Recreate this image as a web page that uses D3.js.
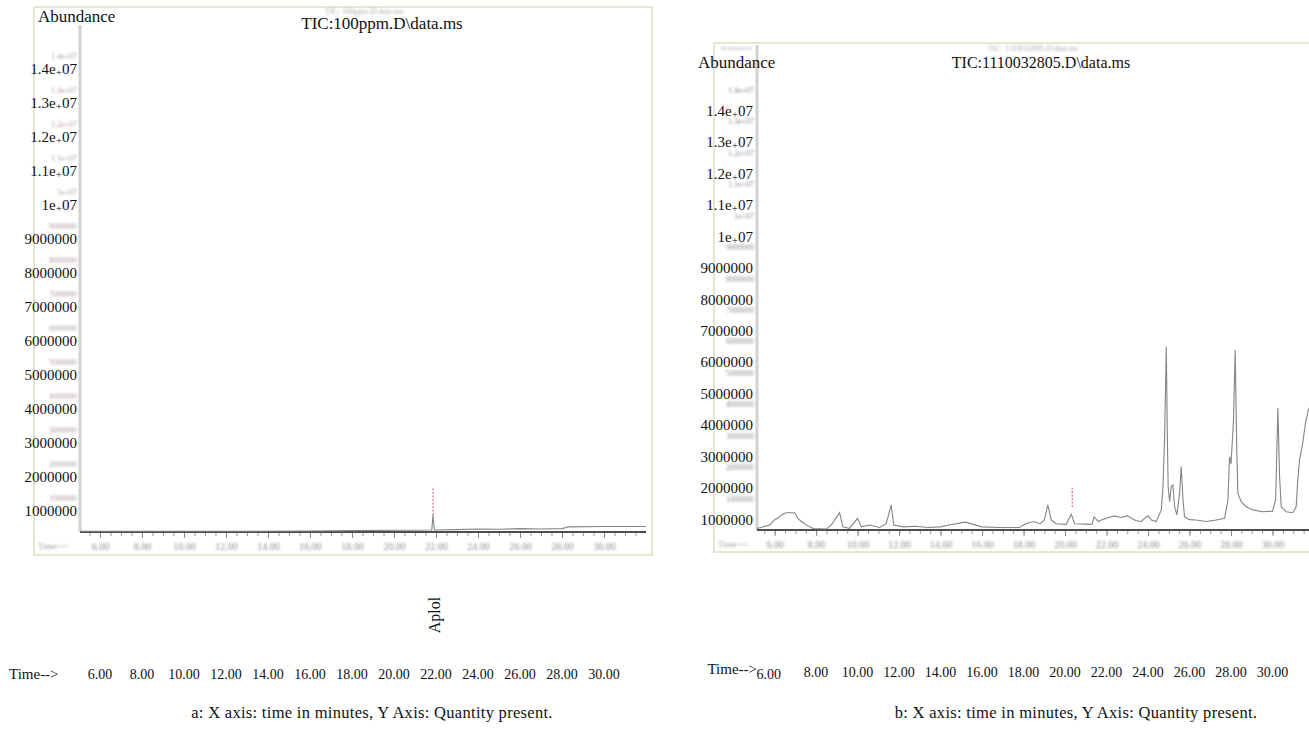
<!DOCTYPE html>
<html>
<head>
<meta charset="utf-8">
<script src="https://cdn.jsdelivr.net/npm/d3@7"></script>
<style>
  body { margin: 0; background: #fff; }
  text { font-family: "Liberation Serif", "Times New Roman", serif; }
</style>
</head>
<body>
<div id="chart"></div>
<script>
const timeLabels = [6, 8, 10, 12, 14, 16, 18, 20, 22, 24, 26, 28, 30];
const abundanceLabels = [1e6, 2e6, 3e6, 4e6, 5e6, 6e6, 7e6, 8e6, 9e6, 10e6, 11e6, 12e6, 13e6, 14e6];

// a: 100 ppm standard, almost flat apart from the Aplol peak
const timeA = [5.05, 8, 12, 16, 18, 20, 21.8, 21.86, 21.92, 23, 24, 25, 26, 27, 28, 28.3, 30, 32];
const abundanceA = [2e4, 2e4, 2e4, 3e4, 4e4, 5e4, 6e4, 5e5, 6e4, 7e4, 9e4, 8e4, 1e5, 9e4, 1e5, 1.5e5, 1.6e5, 1.6e5];

// b: sample 1110032805
const timeB = [5.15, 5.76, 6.0, 6.24, 6.4, 6.56, 6.96, 7.12, 7.29, 7.53, 7.85, 8.5, 8.73, 9.13, 9.29, 9.61,
  10.0, 10.18, 10.58, 11.06, 11.38, 11.62, 11.74, 12.2, 12.8, 13.4, 14.0, 14.4, 15.2, 16.0, 16.8, 17.8,
  18.1, 18.5, 18.8, 19.0, 19.17, 19.33, 19.57, 20.05, 20.3, 20.46, 21.3, 21.4, 21.6, 21.75, 22.1, 22.4,
  22.7, 23.0, 23.4, 23.66, 24.0, 24.16, 24.4, 24.64, 24.72, 24.8, 24.88, 24.93, 24.97, 25.04, 25.12,
  25.2, 25.28, 25.39, 25.52, 25.6, 25.68, 25.76, 26.0, 26.32, 26.8, 27.29, 27.69, 27.85, 27.93, 28.0,
  28.12, 28.2, 28.28, 28.33, 28.49, 28.73, 29.05, 29.53, 30.0, 30.15, 30.26, 30.34, 30.42, 30.66,
  30.98, 31.14, 31.22, 31.3, 31.43, 31.59, 31.73, 32.0];
const abundanceB = [0.05e6, 0.16e6, 0.32e6, 0.42e6, 0.51e6, 0.55e6, 0.55e6, 0.37e6, 0.27e6, 0.16e6, 0.05e6, 0.03e6, 0.16e6, 0.55e6, 0.10e6, 0.05e6,
  0.37e6, 0.10e6, 0.16e6, 0.08e6, 0.20e6, 0.80e6, 0.16e6, 0.10e6, 0.12e6, 0.08e6, 0.10e6, 0.16e6, 0.25e6, 0.10e6, 0.08e6, 0.08e6,
  0.20e6, 0.27e6, 0.20e6, 0.32e6, 0.80e6, 0.32e6, 0.20e6, 0.18e6, 0.50e6, 0.20e6, 0.18e6, 0.42e6, 0.27e6, 0.32e6, 0.40e6, 0.45e6,
  0.40e6, 0.45e6, 0.30e6, 0.27e6, 0.45e6, 0.32e6, 0.27e6, 0.64e6, 1.38e6, 2.97e6, 5.84e6, 2.97e6, 1.38e6, 0.90e6, 1.38e6,
  1.43e6, 0.74e6, 0.48e6, 1.17e6, 2.02e6, 1.00e6, 0.42e6, 0.33e6, 0.32e6, 0.27e6, 0.32e6, 0.37e6, 0.96e6, 2.33e6, 2.10e6,
  3.50e6, 5.73e6, 2.45e6, 1.17e6, 0.90e6, 0.74e6, 0.64e6, 0.58e6, 0.60e6, 0.96e6, 3.88e6, 1.70e6, 0.74e6, 0.58e6,
  0.55e6, 0.74e6, 1.60e6, 2.23e6, 2.65e6, 3.40e6, 3.82e6, 4.20e6];

// pink peak markers drawn by the instrument software
const markTime = [21.86, 20.35];
const markLow = [0.5e6, 0.73e6];
const markHigh = [1.3e6, 1.34e6];

const titles = ["TIC:100ppm.D\\data.ms", "TIC:1110032805.D\\data.ms"];
const scanTitles = ["TIC: 100ppm.D\\data.ms", "TIC: 1110032805.D\\data.ms"];
const captions = ["a: X axis: time in minutes, Y Axis: Quantity present.",
                  "b: X axis: time in minutes, Y Axis: Quantity present."];
const peakName = "Aplol";

const W = 1309, H = 729;

const svg = d3.select("#chart")
    .append("svg")
    .attr("width", W)
    .attr("height", H)
    .style("background", "#fff");

const defs = svg.append("defs");
defs.append("filter").attr("id", "smudge")
    .append("feGaussianBlur").attr("stdDeviation", 0.8);
defs.append("filter").attr("id", "soft")
    .append("feGaussianBlur").attr("stdDeviation", 0.35);

// layout of the two scanned panels
const panels = [
    {frame: [34, 7, 618, 548], tRange: [5.05, 32], xRange: [80, 646], yRange: [532, 56], axisTop: 25,
     labelX: 77, labelShift: 13, ghostFill: "#b09ba2", ghostSize: 8,
     abund: [38, 16, 17], title: [382, 23, 17], scanTitle: [364, 11], scanAbund: null,
     timeWord: [9, 674, "start"], six: [0, 0], timeRow: 674, caption: [372, 712]},
    {frame: [714, 43, 640, 509], tRange: [5.15, 32], xRange: [757, 1314], yRange: [530, 90], axisTop: 45,
     labelX: 753, labelShift: 21, ghostFill: "#93888c", ghostSize: 8,
     abund: [698, 62, 17], title: [1041, 62, 16], scanTitle: [1033, 48], scanAbund: [736, 48],
     timeWord: [757, 669, "end"], six: [-6, 2], timeRow: 672, caption: [1076, 712]}
];

function sciParts(v) {
    if (v < 1e7) return [d3.format("d")(v)];
    return [d3.format("~g")(v / 1e7) + "e", "+", "07"];
}

function drawPanel(p, times, values, i) {
    const g = svg.append("g");
    const x = d3.scaleLinear().domain(p.tRange).range(p.xRange);
    const y = d3.scaleLinear().domain([0, 14e6]).range(p.yRange);

    // scan frame
    g.append("rect")
        .attr("x", p.frame[0]).attr("y", p.frame[1])
        .attr("width", p.frame[2]).attr("height", p.frame[3])
        .attr("fill", "#fff")
        .attr("stroke", "#e3e8d2")
        .attr("stroke-width", 2);

    // y axis of the scan
    g.append("line")
        .attr("x1", p.xRange[0]).attr("x2", p.xRange[0])
        .attr("y1", p.axisTop).attr("y2", y(0))
        .attr("stroke", "#d2d2d2")
        .attr("stroke-width", 3);

    // faint scan tick labels on the y axis
    const ghostY = g.append("g")
        .attr("transform", `translate(${p.xRange[0] - 1},0)`)
        .call(d3.axisLeft(y).tickValues(abundanceLabels).tickSize(0).tickPadding(2)
            .tickFormat(v => v < 1e7 ? d3.format("d")(v) : d3.format("~g")(v / 1e7) + "e+07"));
    ghostY.select(".domain").remove();
    ghostY.selectAll("text")
        .attr("font-size", p.ghostSize)
        .attr("fill", p.ghostFill)
        .attr("filter", "url(#smudge)")
        .attr("font-family", "Liberation Serif");

    // minor ticks below the baseline
    const minor = g.append("g")
        .attr("transform", `translate(0,${y(0)})`)
        .call(d3.axisBottom(x).tickValues(d3.range(5.5, 32, 0.5)).tickSize(4).tickFormat(""));
    minor.select(".domain").remove();
    minor.selectAll("line").attr("stroke", "#9a9a9a");

    // faint scan time labels
    const ghostX = g.append("g")
        .attr("transform", `translate(0,${y(0)})`)
        .call(d3.axisBottom(x).tickValues(timeLabels).tickSize(6).tickPadding(5).tickFormat(d3.format(".2f")));
    ghostX.select(".domain").remove();
    ghostX.selectAll("line").attr("stroke", "#8a8a8a");
    ghostX.selectAll("text")
        .attr("font-size", 10)
        .attr("fill", "#8e8e8e")
        .attr("filter", "url(#smudge)")
        .attr("font-family", "Liberation Serif");
    g.append("text")
        .attr("x", p.frame[0] + 4).attr("y", y(0) + 17)
        .attr("font-size", 9).attr("fill", "#9a9a9a")
        .attr("filter", "url(#smudge)")
        .text("Time-->");

    // baseline
    g.append("line")
        .attr("x1", p.xRange[0]).attr("x2", Math.min(p.xRange[1], W))
        .attr("y1", y(0)).attr("y2", y(0))
        .attr("stroke", "#4d4d4d")
        .attr("stroke-width", 2);

    // chromatogram trace
    const pts = times.map((t, k) => [t, values[k]]);
    g.append("path")
        .datum(pts)
        .attr("fill", "none")
        .attr("stroke", "#858585")
        .attr("stroke-width", 1.1)
        .attr("filter", "url(#soft)")
        .attr("d", d3.line().x(d => x(d[0])).y(d => y(d[1])));

    // peak marker
    g.append("line")
        .attr("x1", x(markTime[i])).attr("x2", x(markTime[i]))
        .attr("y1", y(markLow[i])).attr("y2", y(markHigh[i]))
        .attr("stroke", "#e08a9c")
        .attr("stroke-width", 1.5)
        .attr("stroke-dasharray", "2,1.5");

    // faint scan header
    g.append("text")
        .attr("x", p.scanTitle[0]).attr("y", p.scanTitle[1])
        .attr("text-anchor", "middle").attr("dominant-baseline", "central")
        .attr("font-size", 8).attr("fill", "#b0b0b0")
        .attr("filter", "url(#smudge)")
        .text(scanTitles[i]);
    if (p.scanAbund) {
        g.append("text")
            .attr("x", p.scanAbund[0]).attr("y", p.scanAbund[1])
            .attr("text-anchor", "middle").attr("dominant-baseline", "central")
            .attr("font-size", 7).attr("fill", "#b0b0b0")
            .attr("filter", "url(#smudge)")
            .text("Abundance");
    }

    // overlaid (typed) labels
    g.append("text")
        .attr("x", p.abund[0]).attr("y", p.abund[1])
        .attr("dominant-baseline", "central")
        .attr("font-size", p.abund[2]).attr("fill", "#111")
        .text("Abundance");
    g.append("text")
        .attr("x", p.title[0]).attr("y", p.title[1])
        .attr("text-anchor", "middle").attr("dominant-baseline", "central")
        .attr("font-size", p.title[2]).attr("fill", "#111")
        .text(titles[i]);

    const labels = g.selectAll("text.ylab")
        .data(abundanceLabels)
        .join("text")
        .attr("class", "ylab")
        .attr("x", p.labelX)
        .attr("y", d => y(d) + p.labelShift)
        .attr("text-anchor", "end")
        .attr("dominant-baseline", "central")
        .attr("font-size", 15)
        .attr("fill", "#111");
    labels.each(function(d) {
        const parts = sciParts(d);
        const t = d3.select(this);
        if (parts.length === 1) { t.text(parts[0]); return; }
        t.append("tspan").text(parts[0]);
        t.append("tspan").attr("font-size", 11).attr("dy", 3).text(parts[1]);
        t.append("tspan").attr("dy", -3).text(parts[2]);
    });

    // bottom row of time labels
    g.append("text")
        .attr("x", p.timeWord[0]).attr("y", p.timeWord[1])
        .attr("text-anchor", p.timeWord[2]).attr("dominant-baseline", "central")
        .attr("font-size", 15).attr("fill", "#111")
        .text("Time-->");
    g.selectAll("text.tlab")
        .data(timeLabels)
        .join("text")
        .attr("class", "tlab")
        .attr("x", d => d === 6 ? x(d) + p.six[0] : x(d))
        .attr("y", d => d === 6 ? p.timeRow + p.six[1] : p.timeRow)
        .attr("text-anchor", "middle").attr("dominant-baseline", "central")
        .attr("font-size", 14).attr("fill", "#111")
        .text(d3.format(".2f"));

    g.append("text")
        .attr("x", p.caption[0]).attr("y", p.caption[1])
        .attr("text-anchor", "middle").attr("dominant-baseline", "central")
        .attr("font-size", 16.5).attr("letter-spacing", 0.3).attr("fill", "#111")
        .text(captions[i]);

    return x;
}

const xA = drawPanel(panels[0], timeA, abundanceA, 0);
drawPanel(panels[1], timeB, abundanceB, 1);

svg.append("text")
    .attr("transform", `translate(${xA(markTime[0]) + 1},615) rotate(-90)`)
    .attr("text-anchor", "middle").attr("dominant-baseline", "central")
    .attr("font-size", 16).attr("fill", "#111")
    .text(peakName);
</script>
</body>
</html>
